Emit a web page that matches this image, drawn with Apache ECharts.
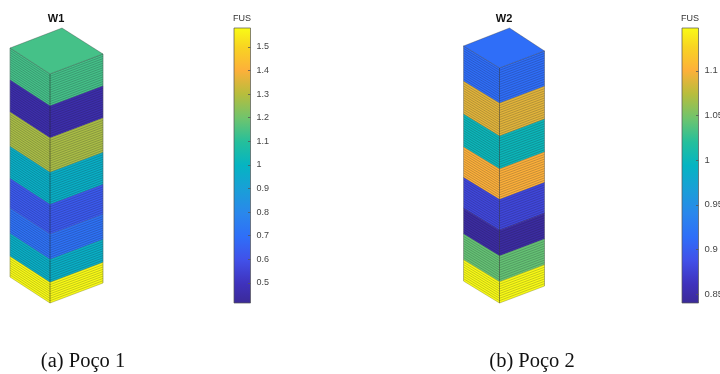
<!DOCTYPE html>
<html><head><meta charset="utf-8">
<style>html,body{margin:0;padding:0;background:#fff}#c{width:720px;height:374px}</style>
<script src="https://cdn.jsdelivr.net/npm/echarts@6/dist/echarts.min.js"></script></head>
<body><div id="c"></div>
<script>
// cells per layer, top to bottom, and FUS per layer
const w1Cells = [14, 14, 15, 14, 13, 11, 10, 9];
const w1Fus = [1.14, 0.46, 1.28, 0.98, 0.63, 0.71, 0.98, 1.58];
const w2Cells = [15, 14, 14, 13, 13, 11, 11, 9];
const w2Fus = [0.914, 1.09, 1.0, 1.1, 0.88, 0.846, 1.043, 1.148];
const w1Range = [0.415, 1.58];
const w2Range = [0.84, 1.148];
const w1Ticks = [0.5, 0.6, 0.7, 0.8, 0.9, 1, 1.1, 1.2, 1.3, 1.4, 1.5];
const w2Ticks = [0.85, 0.9, 0.95, 1, 1.05, 1.1];

const parulaStops = [0, .07, .155, .24, .326, .41, .5, .584, .67, .76, .845, .93, 1];
const parulaColors = ['#3b2a98','#3f32bc','#4150e8','#2f6ef8','#2a87ec','#1a9ed8','#05b4c2','#24bf9c','#6ec46e','#b8bd3c','#fdb03a','#f8d422','#f9fb15'];

function parulaAt(f) {
  const hex = s => [1,3,5].map(i => parseInt(s.substr(i,2),16));
  f = Math.max(0, Math.min(1, f));
  let i = 0;
  while (i < parulaStops.length - 2 && f > parulaStops[i+1]) i++;
  const t = (f - parulaStops[i]) / (parulaStops[i+1] - parulaStops[i]);
  const a = hex(parulaColors[i]), b = hex(parulaColors[i+1]);
  return 'rgb(' + a.map((v,k) => Math.round(v + (b[k]-v)*t)).join(',') + ')';
}
function rows(cells, fus) {
  let c = 0;
  return cells.map((n, i) => { const r = [c, c + n, fus[i]]; c += n; return r; });
}
// Projection of the block inside its grid (axis units are screen units)
const geom1 = { left:[0,20], front:[40,46], right:[93,26], apex:[52,0], depth:229, total:100 };
const geom2 = { left:[0,18], front:[36,40], right:[81,23], apex:[46,0], depth:235, total:100 };

function blockRenderer(g, range) {
  return function (params, api) {
    const c = parulaAt((api.value(2) - range[0]) / (range[1] - range[0]));
    const t = api.value(0), b = api.value(1);
    const k = g.depth / g.total;
    const P = (pt, cell) => api.coord([pt[0], pt[1] + cell * k]);
    const children = [];
    const face = (p, q) => children.push({
      type:'polygon', shape:{points:[P(p,t),P(q,t),P(q,b),P(p,b)]},
      style:{fill:c, stroke:c, lineWidth:0.3}});
    face(g.left, g.front); face(g.front, g.right);
    for (let i = t; i <= b; i++) {
      children.push({type:'polyline', shape:{points:[P(g.left,i),P(g.front,i),P(g.right,i)]},
        style:{fill:'none', stroke:'rgba(20,20,40,0.42)', lineWidth:0.55}});
    }
    children.push({type:'line', shape:{x1:P(g.front,t)[0],y1:P(g.front,t)[1],x2:P(g.front,b)[0],y2:P(g.front,b)[1]},
      style:{stroke:'rgba(30,30,30,0.45)', lineWidth:1}});
    children.push({type:'line', shape:{x1:P(g.left,t)[0],y1:P(g.left,t)[1],x2:P(g.left,b)[0],y2:P(g.left,b)[1]},
      style:{stroke:'rgba(120,120,120,0.6)', lineWidth:0.8}});
    children.push({type:'line', shape:{x1:P(g.right,t)[0],y1:P(g.right,t)[1],x2:P(g.right,b)[0],y2:P(g.right,b)[1]},
      style:{stroke:'rgba(90,90,90,0.55)', lineWidth:0.8}});
    if (params.dataIndex === 0) {
      children.push({type:'polygon', shape:{points:[P(g.apex,0),P(g.right,0),P(g.front,0),P(g.left,0)]},
        style:{fill:c, stroke:'rgba(50,50,50,0.55)', lineWidth:0.6}});
    }
    return {type:'group', children};
  };
}
function barRenderer(range) {
  return function (params, api) {
    const a = api.coord([0, range[1]]), b = api.coord([1, range[0]]);
    const stops = parulaStops.map((s, i) => ({offset:1 - s, color:parulaColors[i]})).reverse();
    return {type:'rect', shape:{x:a[0], y:a[1], width:b[0]-a[0], height:b[1]-a[1]},
      style:{fill:new echarts.graphic.LinearGradient(0,0,0,1,stops),
             stroke:'#555', lineWidth:0.7}};
  };
}
const hiddenAxis = (extra) => Object.assign({type:'value', show:false, splitLine:{show:false}}, extra);
function barYAxis(gridIndex, range, ticks, fontSize) {
  return {type:'value', gridIndex, min:range[0], max:range[1], position:'right', z:6,
    axisLine:{show:false, onZero:false}, splitLine:{show:false},
    axisTick:{show:true, inside:true, length:2.5, customValues:ticks, lineStyle:{color:'#555', width:0.8}},
    axisLabel:{show:true, customValues:ticks, margin:6, fontFamily:'Liberation Sans', fontSize, color:'#444',
      hideOverlap:false, showMinLabel:true, showMaxLabel:true, formatter:v => String(+(+v).toFixed(2))}};
}
const txt = (text, x, y, style) => ({text, left:x, top:y, textAlign:'center', textVerticalAlign:'middle', padding:0,
  textStyle:Object.assign({fontFamily:'Liberation Sans', fontWeight:'normal', fontSize:9, color:'#333'}, style)});

const option = {
  animation:false,
  backgroundColor:'#fff',
  title:[
    txt('W1',56,19,{fontWeight:'bold',fontSize:11,color:'#111'}),
    txt('W2',504,19,{fontWeight:'bold',fontSize:11,color:'#111'}),
    txt('FUS',242,19),
    txt('FUS',690,19),
    txt('(a) Poço 1',83,362,{fontFamily:'Liberation Serif',fontSize:20.5,color:'#111'}),
    txt('(b) Poço 2',532,362,{fontFamily:'Liberation Serif',fontSize:20.5,color:'#111'})
  ],
  grid:[
    {left:10, top:28, width:93, height:275, outerBoundsMode:'none'},
    {left:463.5, top:28, width:81, height:275, outerBoundsMode:'none'},
    {left:234, top:28, width:16.5, height:275, outerBoundsMode:'none'},
    {left:682, top:28, width:16.5, height:275, outerBoundsMode:'none'}
  ],
  xAxis:[
    hiddenAxis({gridIndex:0,min:0,max:93}),
    hiddenAxis({gridIndex:1,min:0,max:81}),
    hiddenAxis({gridIndex:2,min:0,max:1}),
    hiddenAxis({gridIndex:3,min:0,max:1})
  ],
  yAxis:[
    hiddenAxis({gridIndex:0,min:0,max:275,inverse:true}),
    hiddenAxis({gridIndex:1,min:0,max:275,inverse:true}),
    barYAxis(2,w1Range,w1Ticks,9),
    barYAxis(3,w2Range,w2Ticks,9.5)
  ],
  series:[
    {type:'custom',xAxisIndex:0,yAxisIndex:0,clip:false,data:rows(w1Cells,w1Fus),renderItem:blockRenderer(geom1,w1Range)},
    {type:'custom',xAxisIndex:1,yAxisIndex:1,clip:false,data:rows(w2Cells,w2Fus),renderItem:blockRenderer(geom2,w2Range)},
    {type:'custom',xAxisIndex:2,yAxisIndex:2,clip:false,data:[w1Range],renderItem:barRenderer(w1Range)},
    {type:'custom',xAxisIndex:3,yAxisIndex:3,clip:false,data:[w2Range],renderItem:barRenderer(w2Range)}
  ]
};
const chart = echarts.init(document.getElementById('c'), null, {renderer:'canvas', width:720, height:374});
chart.setOption(option);
</script></body></html>
